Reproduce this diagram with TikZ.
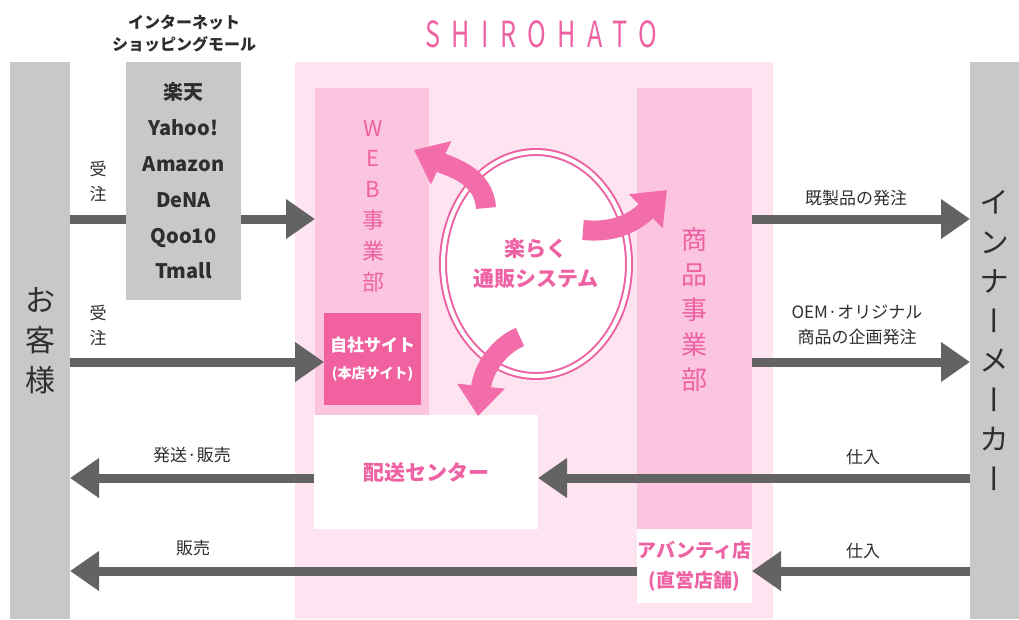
\documentclass[tikz,border=0pt]{standalone}
\usepackage{fontspec}
\setmainfont{Noto Sans CJK JP}
\newfontfamily\titlefont[LetterSpace=45]{Noto Sans CJK JP}
\newfontfamily\tatefont[RawFeature=+vert]{Noto Sans CJK JP}
\usepackage{tikz}
\usetikzlibrary{positioning}
\usetikzlibrary{arrows.meta}
\usetikzlibrary{shapes.geometric}
\definecolor{barGray}{HTML}{C8C8C8}
\definecolor{arrowGray}{HTML}{636363}
\definecolor{textGray}{HTML}{2E2E2E}
\definecolor{palePink}{HTML}{FDE4F0}
\definecolor{midPink}{HTML}{FBC4DF}
\definecolor{hotPink}{HTML}{F2619F}
\definecolor{textPink}{HTML}{EE62A3}
\definecolor{arrowPink}{HTML}{F36DAB}
\tikzset{
    x=1pt, y=-1pt, % pixel grid of the reference
    every node/.style={inner sep=0pt, outer sep=0pt},
    panel/.style={anchor=north west}, % boxes are placed by their top left corner
    grayPanel/.style={panel, fill=barGray, text=textGray},
    pinkPanel/.style={panel, fill=midPink},
    whitePanel/.style={panel, fill=white, text=textPink, font=\bfseries},
    label/.style={text=textGray, align=center, font=\fontsize{17}{25}\selectfont},
    garrow/.style={ % flows between the parties
        draw=arrowGray,
        line width=9pt,
        -{Triangle[length=29pt,width=38pt]}
    },
    parrow/.style={ % arrows around the system
        draw=arrowPink,
        line width=20pt,
        -{Triangle[length=30pt,width=46pt]}
    }
}

\begin{document}
\begin{tikzpicture}
    \useasboundingbox (0,0) rectangle (1019,619);

    \node[panel, fill=palePink, minimum width=478pt, minimum height=557pt] (shirohato) at (295,62) {};
    \node[text=textPink, font=\titlefont\fontsize{36}{36}\selectfont] (brand) at (541,34) {\scalebox{0.7}[1]{SHIROHATO}};

    \node[grayPanel, minimum width=60pt, minimum height=557pt, align=center,
          font=\fontsize{30}{40}\selectfont] (cust) at (10,62) {お\\客\\様};
    \node[grayPanel, minimum width=49pt, minimum height=557pt, align=center,
          font=\tatefont\fontsize{30}{39.5}\selectfont] (maker) at (970,62) {イ\\ン\\ナ\\ー\\メ\\ー\\カ\\ー};

    \node[pinkPanel, minimum width=114pt, minimum height=327pt] (web) at (315,88) {};
    \node[text=textPink, align=center, font=\fontsize{22}{30.8}\selectfont] (webLabel) at (373,206) {W\\E\\B\\事\\業\\部};
    \node[panel, fill=hotPink, text=white, align=center, minimum width=97pt, minimum height=92pt,
          font=\fontsize{17}{27}\selectfont\bfseries] (ownsite) at (324,313) {自社サイト\\{\fontsize{14}{27}\selectfont(本店サイト)}};

    \node[pinkPanel, minimum width=115pt, minimum height=441pt] (goods) at (637,88) {};
    \node[text=textPink, align=center, font=\fontsize{26}{35}\selectfont] (goodsLabel) at (694,310) {商\\品\\事\\業\\部};

    \node[whitePanel, minimum width=224pt, minimum height=114pt, font=\fontsize{21}{21}\selectfont\bfseries] (delivery) at (314,415) {配送センター};
    \node[whitePanel, minimum width=115pt, minimum height=74pt, align=center,
          font=\fontsize{19}{30}\selectfont\bfseries] (avanti) at (637,529) {アバンティ店\\(直営店舗)};

    \node[ellipse, fill=white, draw=textPink, line width=2pt, double=white, double distance=4pt,
          minimum width=186pt, minimum height=224pt, text=textPink, align=center,
          font=\fontsize{21}{30}\selectfont\bfseries] (sys) at (536,264) {楽らく\\通販システム};

    % rows of the flows
    \coordinate (rowA) at (0,219);
    \coordinate (rowB) at (0,362);
    \coordinate (rowC) at (0,478);
    \coordinate (rowD) at (0,571);

    \draw[garrow] (cust.east |- rowA) -- (web.west |- rowA);
    \node[grayPanel, minimum width=115pt, minimum height=238pt, align=center,
          font=\fontsize{20}{35.8}\selectfont\bfseries] (mall) at (126,62) {楽天\\Yahoo!\\Amazon\\DeNA\\Qoo10\\Tmall};
    \node[label, font=\fontsize{16}{22}\selectfont\bfseries] (mallTitle) at (184,34) {インターネット\\ショッピングモール};

    \draw[garrow] (cust.east |- rowB) -- (ownsite.west |- rowB);
    \draw[garrow] (goods.east |- rowA) -- (maker.west |- rowA);
    \draw[garrow] (goods.east |- rowB) -- (maker.west |- rowB);
    \draw[garrow] (maker.west |- rowC) -- (delivery.east |- rowC);
    \draw[garrow] (delivery.west |- rowC) -- (cust.east |- rowC);
    \draw[garrow] (maker.west |- rowD) -- (avanti.east |- rowD);
    \draw[garrow] (avanti.west |- rowD) -- (cust.east |- rowD);

    \node[label] (order1) at (98,181) {受\\注};
    \node[label] (order2) at (98,325) {受\\注};
    \node[label] (ship) at (192,455) {発送·販売};
    \node[label] (sale) at (193,548) {販売};
    \node[label] (readyMade) at (856,198) {既製品の発注};
    \node[label] (oem) at (857,325) {OEM·オリジナル\\商品の企画発注};
    \node[label] (buy1) at (863,457) {仕入};
    \node[label] (buy2) at (863,551) {仕入};

    % arrows out of the system
    \coordinate (tailUp) at (486,208);
    \coordinate (tipUp) at (414,150);
    \coordinate (tailRight) at (583,230);
    \coordinate (tipRight) at (667,190);
    \coordinate (tailDown) at (520,337);
    \coordinate (tipDown) at (478,416);
    \draw[parrow] (tailUp) .. controls (484,175) and (450,167) .. (tipUp);
    \draw[parrow] (tailRight) .. controls (612,233) and (633,224) .. (tipRight);
    \draw[parrow] (tailDown) .. controls (500,345) and (483,368) .. (tipDown);
\end{tikzpicture}
\end{document}
